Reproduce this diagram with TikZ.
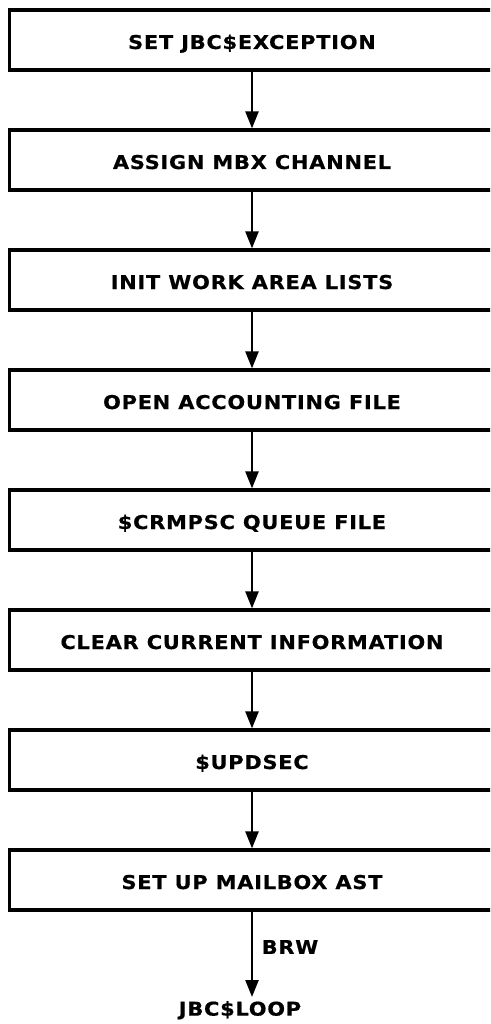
\documentclass[tikz,border=0pt]{standalone}
\usepackage{fontspec}
\setmainfont{DejaVu Sans}[LetterSpace=4, FakeStretch=1.1, BoldFeatures={FakeBold=0.6}]
\usetikzlibrary{arrows.meta}
\begin{document}
\begin{tikzpicture}[x=1pt,y=-1pt,
  stepbox/.style={draw, line width=3.2pt, minimum width=485pt, minimum height=60pt, inner sep=0pt,
    text height=18pt, text depth=0pt, font=\fontsize{19}{23}\selectfont\bfseries},
  flow/.style={line width=2.4pt, -{Triangle[width=13pt,length=17pt]}},
  lbl/.style={font=\fontsize{19}{23}\selectfont\bfseries, inner sep=0pt}]
\useasboundingbox (0,0) rectangle (490,1024);
\clip (0,0) rectangle (490,1024);
\node[stepbox] (b1) at (252,40)  {SET JBC\$EXCEPTION};
\node[stepbox] (b2) at (252,160) {ASSIGN MBX CHANNEL};
\node[stepbox] (b3) at (252,280) {INIT WORK AREA LISTS};
\node[stepbox] (b4) at (252,400) {OPEN ACCOUNTING FILE};
\node[stepbox] (b5) at (252,520) {\$CRMPSC QUEUE FILE};
\node[stepbox] (b6) at (252,640) {CLEAR CURRENT INFORMATION};
\node[stepbox] (b7) at (252,760) {\$UPDSEC};
\node[stepbox] (b8) at (252,880) {SET UP MAILBOX AST};
\node[lbl] (brw) at (290,947) {BRW};
\node[lbl, anchor=north] (loop) at (240,1001) {JBC\$LOOP};
\draw[flow] (b1) -- (b2);
\draw[flow] (b2) -- (b3);
\draw[flow] (b3) -- (b4);
\draw[flow] (b4) -- (b5);
\draw[flow] (b5) -- (b6);
\draw[flow] (b6) -- (b7);
\draw[flow] (b7) -- (b8);
\draw[flow] (b8.south) -- ([yshift=4pt]b8.south |- loop.north);
\end{tikzpicture}
\end{document}
